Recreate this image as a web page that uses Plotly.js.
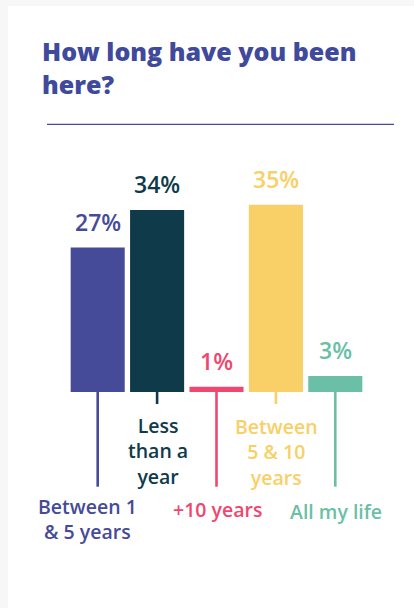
<!DOCTYPE html>
<html>
<head>
<meta charset="utf-8">
<script src="https://cdn.plot.ly/plotly-3.0.1.min.js"></script>
<style>html,body{margin:0;padding:0;background:#f7f7f7;}#chart{width:414px;height:608px;}</style>
</head>
<body>
<div id="chart"></div>
<script>
var categories = ["Between 1 & 5 years", "Less than a year", "+10 years", "Between 5 & 10 years", "All my life"];
var values = [27, 34, 1, 35, 3];
var valueLabels = ["27%", "34%", "1%", "35%", "3%"];
var labelLines = [["Between 1", "& 5 years"], ["Less", "than a", "year"], ["+10 years"], ["Between", "5 & 10", "years"], ["All my life"]];
var colors = ["#454a99", "#0f3a4a", "#ef476f", "#f9d067", "#6bbfa6"];
var titleText = "How long have you been<br>here?";

var PX = 5.35; // pixels per unit
var longLine = [true, false, true, false, true];
var labelCenterPx = [519, 451, 509, 452, 511];
var labelXShift = [-10, 1, 1, 1, 1];

var annotations = [];
var shapes = [];

shapes.push({type: "rect", xref: "paper", yref: "paper", x0: -0.202, x1: 1.3, y0: -0.2, y1: 1.4019,
  fillcolor: "#ffffff", line: {width: 0}, layer: "below"});
shapes.push({type: "line", xref: "paper", yref: "paper", x0: (47 - 68) / 297, x1: (394 - 68) / 297,
  y0: 1 + (178 - 124.3) / 428, y1: 1 + (178 - 124.3) / 428, line: {color: "#454a99", width: 1.3}});

annotations.push({xref: "paper", yref: "paper", x: (40 - 68) / 297, y: 1 + (178 - 67.5) / 428,
  xanchor: "left", yanchor: "middle", align: "left", showarrow: false, text: titleText,
  font: {family: "Open Sans", size: 25, color: "#3f4a9c", weight: 800}});

for (var i = 0; i < categories.length; i++) {
  annotations.push({x: categories[i], y: values[i], xref: "x", yref: "y", yanchor: "middle", xanchor: "center",
    yshift: 26, showarrow: false, text: valueLabels[i],
    font: {family: "Open Sans", size: 23, color: colors[i], weight: 600}});
  var bottom = longLine[i] ? -(486.7 - 392) / PX : -(404 - 392) / PX;
  shapes.push({type: "line", xref: "x", yref: "y", x0: categories[i], x1: categories[i], y0: 0, y1: bottom,
    line: {color: colors[i], width: 2.6}});
  annotations.push({x: categories[i], y: -(labelCenterPx[i] - 392) / PX, xref: "x", yref: "y", xanchor: "center",
    yanchor: "middle", xshift: labelXShift[i], showarrow: false, text: labelLines[i].join("<br>"),
    font: {family: "Open Sans", size: 19.5, color: colors[i], weight: 600}});
}

var data = [{type: "bar", x: categories, y: values, marker: {color: colors}, hoverinfo: "none"}];
var layout = {
  width: 414, height: 608,
  margin: {l: 68, r: 49, t: 178, b: 2},
  paper_bgcolor: "#f7f7f7", plot_bgcolor: "rgba(0,0,0,0)",
  bargap: 0.09,
  showlegend: false,
  xaxis: {type: "category", range: [-0.5, 4.5], visible: false, fixedrange: true},
  yaxis: {range: [-40, 40], visible: false, fixedrange: true},
  shapes: shapes,
  annotations: annotations
};
Plotly.newPlot("chart", data, layout, {displayModeBar: false, staticPlot: true});
</script>
</body>
</html>
